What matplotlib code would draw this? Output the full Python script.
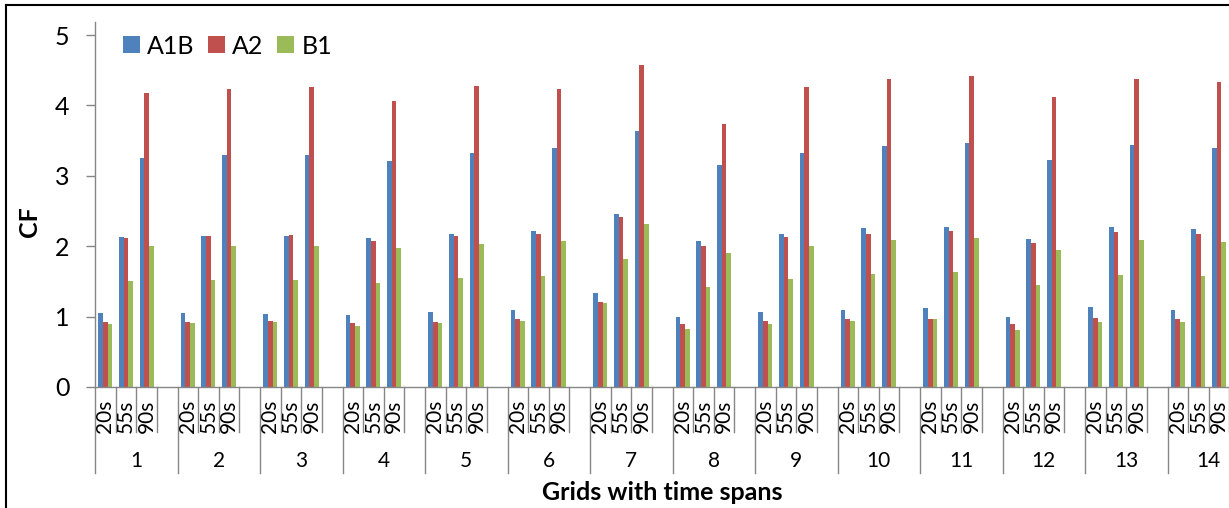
import matplotlib
matplotlib.use("Agg")
import matplotlib.pyplot as plt
from matplotlib.lines import Line2D
from matplotlib.patches import Patch
from matplotlib.transforms import blended_transform_factory
import numpy as np

plt.rcParams['font.family'] = ['Lato', 'DejaVu Sans']

# Grids (outer category) and time spans (inner category)
grids = [str(i) for i in range(1, 15)]
spans = ["20s", "55s", "90s"]
series = ["A1B", "A2", "B1"]
colors = ["#4F81BD", "#C0504D", "#9BBB59"]

# CF per grid: [20s, 55s, 90s]
a1b = [[1.05, 2.13, 3.26], [1.05, 2.14, 3.29], [1.04, 2.14, 3.29], [1.03, 2.11, 3.21],
       [1.07, 2.18, 3.33], [1.09, 2.21, 3.39], [1.34, 2.46, 3.64], [0.99, 2.07, 3.15],
       [1.07, 2.18, 3.32], [1.10, 2.26, 3.43], [1.12, 2.27, 3.47], [1.00, 2.10, 3.23],
       [1.13, 2.27, 3.44], [1.10, 2.24, 3.40]]
a2 = [[0.92, 2.11, 4.18], [0.93, 2.14, 4.24], [0.94, 2.16, 4.26], [0.91, 2.07, 4.07],
      [0.93, 2.14, 4.27], [0.97, 2.18, 4.23], [1.21, 2.42, 4.57], [0.90, 2.01, 3.74],
      [0.94, 2.13, 4.26], [0.97, 2.18, 4.37], [0.97, 2.21, 4.42], [0.89, 2.04, 4.12],
      [0.98, 2.20, 4.37], [0.97, 2.17, 4.33]]
b1 = [[0.90, 1.50, 2.00], [0.91, 1.52, 2.01], [0.92, 1.52, 2.01], [0.87, 1.48, 1.97],
      [0.91, 1.55, 2.03], [0.94, 1.57, 2.07], [1.19, 1.82, 2.31], [0.82, 1.42, 1.91],
      [0.89, 1.53, 2.01], [0.94, 1.60, 2.09], [0.96, 1.63, 2.11], [0.81, 1.45, 1.94],
      [0.92, 1.59, 2.09], [0.92, 1.58, 2.06]]

W, H = 1229, 508
fig = plt.figure(figsize=(W / 100, H / 100), dpi=100)

n_groups = len(grids)
slots_per_group = len(spans) + 1          # one empty slot after each grid
n_slots = n_groups * slots_per_group

px_slot = 82.5 / slots_per_group
ax_left, ax_base, ax_top = 95, 387, 21.7
ax = fig.add_axes([ax_left / W, (H - ax_base) / H,
                   n_slots * px_slot / W, (ax_base - ax_top) / H])

grid_idx = np.arange(n_groups)
bw = 0.225
for k, (vals, col, name) in enumerate(zip([a1b, a2, b1], colors, series)):
    vals = np.asarray(vals)
    for c in range(len(spans)):
        x = grid_idx * slots_per_group + c + (k - 1) * bw
        ax.bar(x, vals[:, c], width=bw, color=col, linewidth=0, label=name if c == 0 else None)

ax.set_xlim(-0.5, n_slots - 0.5)
ax.set_ylim(0, 5.19)
ax.set_yticks(range(6))
ax.tick_params(axis='y', direction='out', length=6.5, width=1.0, color='#868686',
               labelsize=18, pad=12)
ax.set_xticks([])
for s in ['top', 'right']:
    ax.spines[s].set_visible(False)
for s in ['left', 'bottom']:
    ax.spines[s].set_color('#868686')
    ax.spines[s].set_linewidth(1.0)

# Two-level category axis drawn below the plot
tr = blended_transform_factory(ax.transData, fig.transFigure)
y_base = (H - ax_base) / H
y_inner = (H - 432) / H
y_outer = (H - 473) / H
for g in range(n_groups):
    x0 = g * slots_per_group - 0.5
    ax.add_line(Line2D([x0, x0], [y_base, y_outer], transform=tr, color='#868686',
                       lw=1.0, clip_on=False))
    for j in range(1, slots_per_group):
        ax.add_line(Line2D([x0 + j, x0 + j], [y_base, y_inner], transform=tr,
                           color='#868686', lw=1.0, clip_on=False))
    for c, lab in enumerate(spans):
        ax.text(g * slots_per_group + c, (H - 400) / H, lab, transform=tr, rotation=90,
                ha='center', va='top', fontsize=15, clip_on=False)
    ax.text(x0 + slots_per_group / 2, (H - 461) / H, grids[g], transform=tr,
            ha='center', va='center', fontsize=15, clip_on=False)
x_end = n_groups * slots_per_group - 0.5
ax.add_line(Line2D([x_end, x_end], [y_base, y_outer], transform=tr, color='#868686',
                   lw=1.0, clip_on=False))

fig.text(29 / W, (H - 222) / H, "CF", rotation=90, ha='center', va='center',
         fontsize=18, fontweight='bold')
fig.text(662 / W, (H - 493) / H, "Grids with time spans", ha='center', va='center',
         fontsize=18, fontweight='bold')

handles = [Patch(facecolor=c, edgecolor='none', label=s) for c, s in zip(colors, series)]
fig.legend(handles=handles, loc='center left', bbox_to_anchor=(123 / W, (H - 46) / H),
           ncol=3, frameon=False, fontsize=18, handlelength=0.66, handleheight=0.66,
           handletextpad=0.3, columnspacing=0.55, borderpad=0, borderaxespad=0)

# Chart-area border
fig.add_artist(Line2D([6 / W, 6 / W], [0, 1 - 5 / H], transform=fig.transFigure,
                      color='black', lw=1.5))
fig.add_artist(Line2D([6 / W, 1], [1 - 5 / H, 1 - 5 / H], transform=fig.transFigure,
                      color='black', lw=1.5))

fig.savefig("out.png", dpi=100)
